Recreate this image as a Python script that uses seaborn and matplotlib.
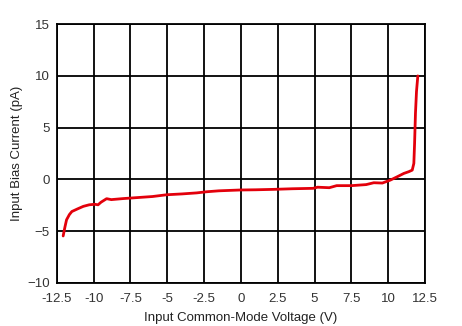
import numpy as np
import pandas as pd
import matplotlib
matplotlib.use("Agg")
import matplotlib.pyplot as plt
import seaborn as sns

# curve
voltage = [-12.07, -11.95, -11.84, -11.65, -11.48, -11.1, -10.7, -10.3, -9.93, -9.7,
           -9.5, -9.12, -8.8, -8.0, -7.0, -6.0, -5.04, -4.0, -3.0, -2.32,
           -1.5, -0.05, 1.0, 2.2, 3.5, 4.9, 5.2, 6.0, 6.5, 7.5,
           8.5, 9.02, 9.6, 10.15, 10.6, 11.06, 11.4, 11.63, 11.74, 11.79,
           11.85, 11.92, 12.01]
current = [-5.46, -4.6, -3.9, -3.4, -3.1, -2.85, -2.6, -2.45, -2.4, -2.45,
           -2.2, -1.86, -1.95, -1.85, -1.75, -1.65, -1.48, -1.4, -1.3, -1.19,
           -1.1, -1.02, -1.0, -0.96, -0.9, -0.86, -0.75, -0.8, -0.6, -0.6,
           -0.5, -0.32, -0.35, -0.06, 0.25, 0.58, 0.75, 0.9, 1.55, 3.48,
           6.4, 8.5, 10.0]

x_ticks = [-12.5, -10, -7.5, -5, -2.5, 0, 2.5, 5, 7.5, 10, 12.5]
x_labels = ["-12.5", "-10", "-7.5", "-5", "-2.5", "0", "2.5", "5", "7.5", "10", "12.5"]
y_ticks = [-10, -5, 0, 5, 10, 15]

df = pd.DataFrame({"voltage": voltage, "current": current})

sns.set_style("white")
plt.rcParams['font.family'] = ['Liberation Sans', 'DejaVu Sans']

fig, ax = plt.subplots(figsize=(4.62, 3.26), dpi=100)
fig.subplots_adjust(left=0.123, right=0.92, top=0.926, bottom=0.132)

sns.lineplot(data=df, x="voltage", y="current", sort=False, color="#e3000b",
             linewidth=2.0, ax=ax)

ax.set_xlim(-12.5, 12.5)
ax.set_ylim(-10, 15)
ax.set_xticks(x_ticks)
ax.set_xticklabels(x_labels)
ax.set_yticks(y_ticks)
ax.grid(True, color="black", linewidth=1.3)
ax.set_axisbelow(True)
for s in ax.spines.values():
    s.set_color("black")
    s.set_linewidth(1.3)
ax.tick_params(length=0, labelsize=9.5, colors="#333333")
ax.tick_params(axis="x", pad=7)
ax.tick_params(axis="y", pad=5)

ax.set_xlabel("Input Common-Mode Voltage (V)", fontsize=9.5, color="#222222", labelpad=5)
ax.set_ylabel("Input Bias Current (pA)", fontsize=9.5, color="#222222", labelpad=3)

fig.savefig("out.png", dpi=100)
